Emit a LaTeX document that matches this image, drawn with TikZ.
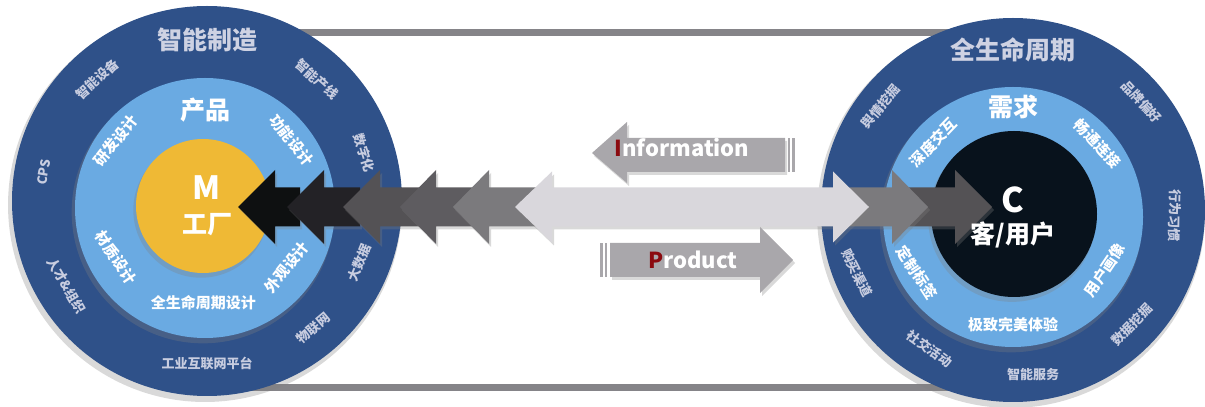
\documentclass[tikz,border=0pt]{standalone}
\usepackage{fontspec}
\setmainfont{Noto Sans CJK SC}
\usetikzlibrary{shadows}

\definecolor{ringdark}{HTML}{2F5189}
\definecolor{ringlight}{HTML}{6AAAE2}
\definecolor{factory}{HTML}{EFB935}
\definecolor{client}{HTML}{08121C}
\definecolor{ringtext}{HTML}{C8CDE0}
\definecolor{bargray}{HTML}{858488}
\definecolor{flowA}{HTML}{0E1011}
\definecolor{flowB}{HTML}{232226}
\definecolor{flowC}{HTML}{545255}
\definecolor{flowD}{HTML}{5E5C60}
\definecolor{flowE}{HTML}{7B7A7D}
\definecolor{flowlight}{HTML}{D9D7DC}
\definecolor{tagarrow}{HTML}{A9A7AB}
\definecolor{initial}{HTML}{8B0A0F}

\begin{document}
\begin{tikzpicture}[x=1pt,y=1pt,
   outtxt/.style={text=ringtext, font=\bfseries\fontsize{13}{13}\selectfont, inner sep=1pt},
   intxt/.style={text=white, font=\bfseries\fontsize{15}{15}\selectfont, inner sep=1pt},
   bigtxt/.style={font=\bfseries\fontsize{25}{25}\selectfont},
   cshade/.style={drop shadow={shadow xshift=-2pt,shadow yshift=-4pt,shadow scale=1.01,opacity=.3}},
   ashade/.style={drop shadow={shadow xshift=2pt,shadow yshift=-3pt,opacity=.3}}]
   \useasboundingbox (0,0) rectangle (1205,407);
   \coordinate (L) at (207,206);
   \coordinate (Li) at (205,199);
   \coordinate (R) at (1013,197);
   \coordinate (Ri) at (1013,190);
   % belt between the two wheels
   \draw[bargray, line width=7pt] (207,374)--(1013,374);
   \draw[bargray, line width=7pt] (207,19)--(1013,19);
   % left wheel
   \fill[ringdark, cshade] (L) circle [radius=195];
   \fill[ringlight, cshade] (Li) circle [radius=130];
   \fill[factory, cshade] (203,201) circle [radius=67];
   % right wheel
   \fill[ringdark, cshade] (R) circle [radius=192];
   \fill[ringlight, cshade] (Ri) circle [radius=130];
   \fill[client, cshade] (1014,193) circle [radius=83];
   % left outer ring
   \path (L)+(90:161) node (lt) [bigtxt, text=ringtext!90!white] {智能制造};
   \path (L)+(132:164) node (l1) [outtxt, rotate=42] {智能设备};
   \path (L)+(48:164) node (l2) [outtxt, rotate=-42] {智能产线};
   \path (L)+(17:164) node (l3) [outtxt, rotate=-73] {数字化};
   \path (L)+(-22:164) node (l4) [outtxt, rotate=68] {大数据};
   \path (L)+(-50:166) node (l5) [outtxt, rotate=40] {物联网};
   \path (L)+(-90:162) node (l6) [outtxt] {工业互联网平台};
   \path (L)+(-149:164) node (l7) [outtxt, rotate=-60] {人才\&组织};
   \path (L)+(170:166) node (l8) [outtxt, rotate=80] {CPS};
   % left inner ring
   \path (Li)+(90:98) node (lp) [bigtxt, text=white] {产品};
   \path (Li)+(143:112) node (p1) [intxt, rotate=52] {研发设计};
   \path (Li)+(38:110) node (p2) [intxt, rotate=-52] {功能设计};
   \path (Li)+(-151:102) node (p3) [intxt, rotate=-56] {材质设计};
   \path (Li)+(-36:101) node (p4) [intxt, rotate=52] {外观设计};
   \path (Li)+(-91:95) node (p5) [intxt] {全生命周期设计};
   % right outer ring
   \path (R)+(90:160) node (rt) [bigtxt, text=ringtext!90!white] {全生命周期};
   \path (R)+(142:168) node (r1) [outtxt, rotate=50] {舆情挖掘};
   \path (R)+(40:168) node (r2) [outtxt, rotate=-47] {品牌偏好};
   \path (R)+(-2:162) node (r3) [outtxt, rotate=-91] {行为习惯};
   \path (R)+(-44:165) node (r4) [outtxt, rotate=46] {数据挖掘};
   \path (R)+(-83:166) node (r5) [outtxt] {智能服务};
   \path (R)+(-121:162) node (r6) [outtxt, rotate=-36] {社交活动};
   \path (R)+(-158:168) node (r7) [outtxt, rotate=-63] {购买渠道};
   % right inner ring
   \path (Ri)+(90:110) node (rq) [bigtxt, text=white] {需求};
   \path (Ri)+(137:109) node (q1) [intxt, rotate=46] {深度交互};
   \path (Ri)+(41:112) node (q2) [intxt, rotate=-47] {畅通连接};
   \path (Ri)+(-30:106) node (q3) [intxt, rotate=56] {用户画像};
   \path (Ri)+(-150:111) node (q4) [intxt, rotate=-57] {定制标签};
   \path (Ri)+(-90:108) node (q5) [intxt] {极致完美体验};
   % arrows into the factory
   \fill[flowA, ashade] (238,200)--(275,237)--(275,219.5)--(300,219.5)--(300,180.5)--(275,180.5)--(275,163)--cycle;
   \fill[flowB, ashade] (287,200)--(324,237)--(324,219.5)--(360,219.5)--(360,180.5)--(324,180.5)--(324,163)--cycle;
   \fill[flowC, ashade] (343,200)--(380,237)--(380,219.5)--(420,219.5)--(420,180.5)--(380,180.5)--(380,163)--cycle;
   \fill[flowD, ashade] (400,200)--(436,237)--(436,219.5)--(475,219.5)--(475,180.5)--(436,180.5)--(436,163)--cycle;
   \fill[flowE, ashade] (453,200)--(489,237)--(489,219.5)--(540,219.5)--(540,180.5)--(489,180.5)--(489,163)--cycle;
   % arrows into the client
   \fill[flowC, ashade] (992,200)--(955,237)--(955,219.5)--(900,219.5)--(900,180.5)--(955,180.5)--(955,163)--cycle;
   \fill[flowE, ashade] (928,200)--(892,237)--(892,219.5)--(840,219.5)--(840,180.5)--(892,180.5)--(892,163)--cycle;
   % long double arrow
   \fill[flowlight, ashade] (515,200)--(552,235.5)--(552,219.5)--(833,219.5)--(833,235.5)--(869,200)--(833,164.5)--(833,180.5)--(552,180.5)--(552,164.5)--cycle;
   % information arrow
   \fill[tagarrow, ashade] (592,254)--(627,285)--(627,269)--(785,269)--(785,235)--(627,235)--(627,224)--cycle;
   \fill[tagarrow] (788,269) rectangle (790,235);
   \fill[tagarrow] (792,269) rectangle (795,235);
   \node (info) at (682,259) [text=white, font=\bfseries\fontsize{22}{22}\selectfont] {\textcolor{initial}{I}nformation};
   % product arrow
   \fill[tagarrow, ashade] (793,147)--(760,180)--(760,164)--(610,164)--(610,130)--(760,130)--(760,114)--cycle;
   \fill[tagarrow] (600,164) rectangle (603,130);
   \fill[tagarrow] (605,164) rectangle (607,130);
   \node (prod) at (693,147) [text=white, font=\bfseries\fontsize{22}{22}\selectfont] {\textcolor{initial}{P}roduct};
   % hubs
   \node (m) at (207,219) [text=white, font=\bfseries\fontsize{32}{32}\selectfont] {M};
   \node (mf) at (207,182) [bigtxt, text=white] {工厂};
   \node (c) at (1013,207) [text=white, font=\bfseries\fontsize{34}{34}\selectfont] {C};
   \node (cu) at (1013,172) [bigtxt, text=white] {客/用户};
\end{tikzpicture}
\end{document}
